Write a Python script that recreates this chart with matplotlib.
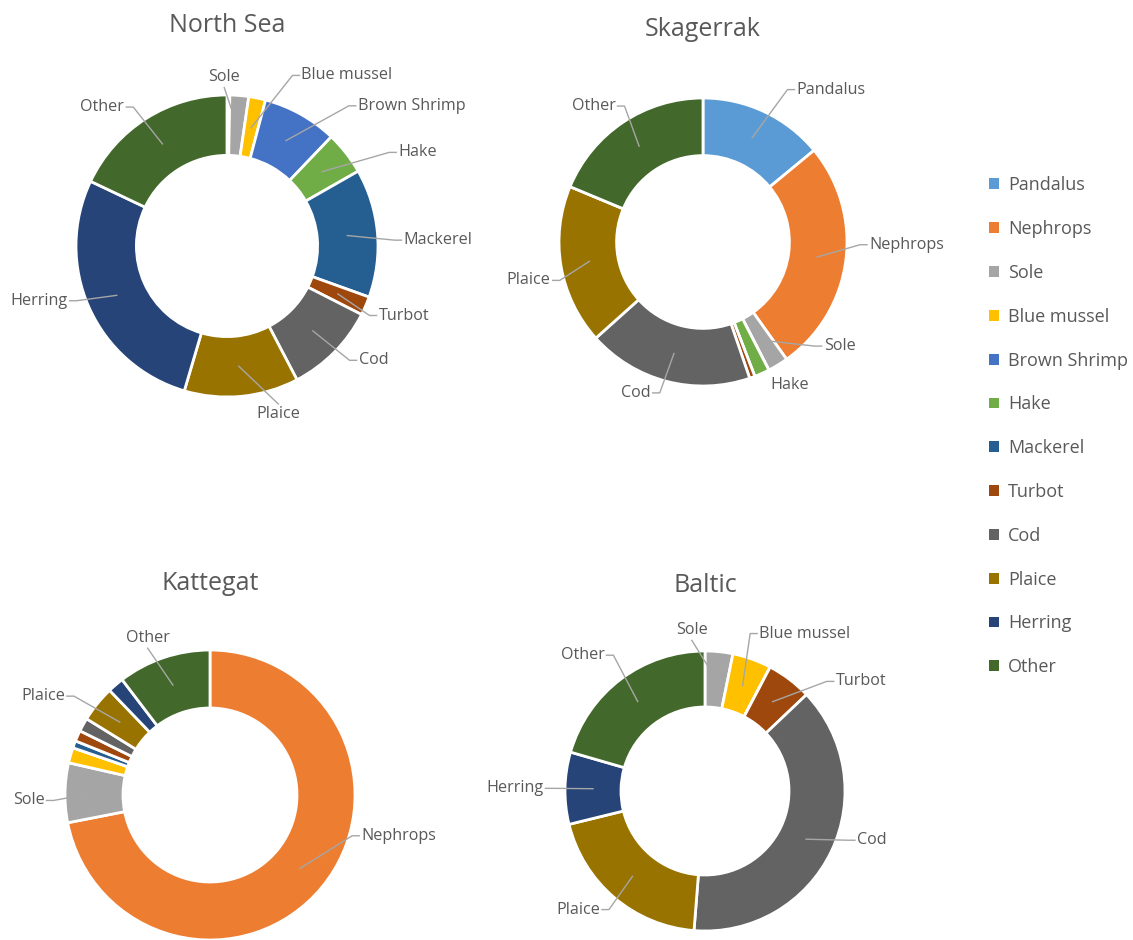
import numpy as np
import matplotlib
matplotlib.use("Agg")
import matplotlib.pyplot as plt
from matplotlib.patches import Patch

plt.rcParams['font.family'] = ['Open Sans', 'DejaVu Sans']

# ------------------------------------------------------------------
# data: share of landings (%) per species
# ------------------------------------------------------------------
species = ['Pandalus', 'Nephrops', 'Sole', 'Blue mussel', 'Brown Shrimp', 'Hake',
           'Mackerel', 'Turbot', 'Cod', 'Plaice', 'Herring', 'Other']
colors = ['#5B9BD5', '#ED7D31', '#A5A5A5', '#FFC000', '#4472C4', '#70AD47',
          '#255E91', '#9E480E', '#636363', '#997300', '#264478', '#43682B']

north_sea = [0.0, 0.3, 2.0, 1.8, 8.0, 4.6, 13.7, 2.0, 9.8, 12.2, 27.4, 17.9]
skagerrak = [14.0, 26.1, 2.3, 0.0, 0.0, 1.7, 0.0, 0.6, 18.6, 17.9, 0.0, 18.7]
kattegat = [0.0, 71.5, 6.6, 1.7, 0.0, 0.0, 0.8, 1.2, 1.5, 4.0, 1.8, 10.3]
baltic = [0.0, 0.0, 3.2, 4.5, 0.0, 0.0, 0.0, 5.2, 38.3, 19.9, 8.3, 20.5]

regions = ['North Sea', 'Skagerrak', 'Kattegat', 'Baltic']
values = [north_sea, skagerrak, kattegat, baltic]

labelled = [
    ['Sole', 'Blue mussel', 'Brown Shrimp', 'Hake', 'Mackerel', 'Turbot',
     'Cod', 'Plaice', 'Herring', 'Other'],
    ['Pandalus', 'Nephrops', 'Sole', 'Hake', 'Cod', 'Plaice', 'Other'],
    ['Nephrops', 'Sole', 'Plaice', 'Other'],
    ['Sole', 'Blue mussel', 'Turbot', 'Cod', 'Plaice', 'Herring', 'Other'],
]

# ------------------------------------------------------------------
# layout (pixels): donut centre, outer radius, title position
# ------------------------------------------------------------------
W, H = 1133, 940
centres = [(227, 246), (703, 242), (210, 795), (705, 791)]
radii = [151, 144, 145, 140]
title_y = [25, 30, 583, 585]

# label placement tweaks: (angle in deg clockwise from top, radius factor, mode)
# mode: 'side' = text beside the elbow, 'top'/'bottom' = text above/below it
tweaks = {
    (0, 'Sole'): (-1, 1.05, 'top'),
    (0, 'Blue mussel'): (21, 1.21, 'side'),
    (0, 'Brown Shrimp'): (41, 1.23, 'side'),
    (0, 'Hake'): (60, 1.24, 'side'),
    (0, 'Mackerel'): (88, 1.11, 'side'),
    (0, 'Turbot'): (116, 1.05, 'side'),
    (0, 'Cod'): (133, 1.11, 'side'),
    (0, 'Plaice'): (162, 1.10, 'bottom'),
    (0, 'Herring'): (250, 1.06, 'side'),
    (0, 'Other'): (326, 1.11, 'side'),
    (1, 'Pandalus'): (29, 1.21, 'side'),
    (1, 'Nephrops'): (91, 1.09, 'side'),
    (1, 'Sole'): (133, 1.06, 'side'),
    (1, 'Hake'): (147, 1.10, 'bottom'),
    (1, 'Cod'): (196, 1.09, 'side'),
    (1, 'Plaice'): (255, 1.03, 'side'),
    (1, 'Other'): (330, 1.09, 'side'),
    (2, 'Nephrops'): (106, 1.02, 'side'),
    (2, 'Sole'): (268, 1.08, 'side'),
    (2, 'Plaice'): (306, 1.16, 'side'),
    (2, 'Other'): (337, 1.10, 'top'),
    (3, 'Sole'): (-5, 1.08, 'top'),
    (3, 'Blue mussel'): (16, 1.17, 'side'),
    (3, 'Turbot'): (48, 1.17, 'side'),
    (3, 'Cod'): (109, 1.08, 'side'),
    (3, 'Plaice'): (219, 1.09, 'side'),
    (3, 'Herring'): (271, 1.09, 'side'),
    (3, 'Other'): (326, 1.17, 'side'),
}
no_leader = {(1, 'Hake')}

text_col = '#595959'
line_col = '#A6A6A6'

fig = plt.figure(figsize=(W / 100, H / 100), dpi=100)
BOX = 240  # half size of each axes, pixels

for k, (name, vals) in enumerate(zip(regions, values)):
    cx, cy = centres[k]
    r = radii[k]
    ax = fig.add_axes([(cx - BOX) / W, (H - cy - BOX) / H, 2 * BOX / W, 2 * BOX / H])

    wedges, _ = ax.pie(vals, colors=colors, radius=r, startangle=90, counterclock=False,
                       wedgeprops=dict(width=0.4 * r, edgecolor='white', linewidth=2))
    # pie() resets the limits, so set them afterwards
    ax.set_xlim(-BOX, BOX)
    ax.set_ylim(-BOX, BOX)
    ax.set_aspect('equal')
    ax.axis('off')

    ax.text(0, cy - title_y[k], name, ha='center', va='center',
            fontsize=18, color=text_col, clip_on=False)

    total = float(sum(vals))
    cum = np.cumsum([0] + list(vals)) / total * 360.0
    for i, sp in enumerate(species):
        if sp not in labelled[k] or vals[i] == 0:
            continue
        mid = (cum[i] + cum[i + 1]) / 2
        ang, rf, mode = tweaks.get((k, sp), (mid, 1.12, 'side'))
        a0 = np.radians(mid)
        a1 = np.radians(ang)
        sx, sy = 0.8 * r * np.sin(a0), 0.8 * r * np.cos(a0)
        ex, ey = rf * r * np.sin(a1), rf * r * np.cos(a1)
        if mode == 'side':
            sign = 1 if ex >= 0 else -1
            tx = ex + sign * 7
            if (k, sp) not in no_leader:
                ax.plot([sx, ex, tx], [sy, ey, ey], color=line_col, lw=1, clip_on=False)
            ax.text(tx + sign * 2, ey, sp, ha='left' if sign > 0 else 'right',
                    va='center', fontsize=11.6, color=text_col, clip_on=False)
        else:
            if (k, sp) not in no_leader:
                ax.plot([sx, ex], [sy, ey], color=line_col, lw=1, clip_on=False)
            ax.text(ex, ey + (2 if mode == 'top' else -2), sp, ha='center',
                    va='bottom' if mode == 'top' else 'top',
                    fontsize=11.6, color=text_col, clip_on=False)

handles = [Patch(facecolor=c, edgecolor='none') for c in colors]
fig.legend(handles, species, loc='upper left', bbox_to_anchor=(973 / W, 1 - 160 / H),
           frameon=False, fontsize=13, labelcolor=text_col, handlelength=0.55,
           handleheight=0.55, handletextpad=0.5, labelspacing=1.43)

fig.savefig('out.png', dpi=100, facecolor='white')
